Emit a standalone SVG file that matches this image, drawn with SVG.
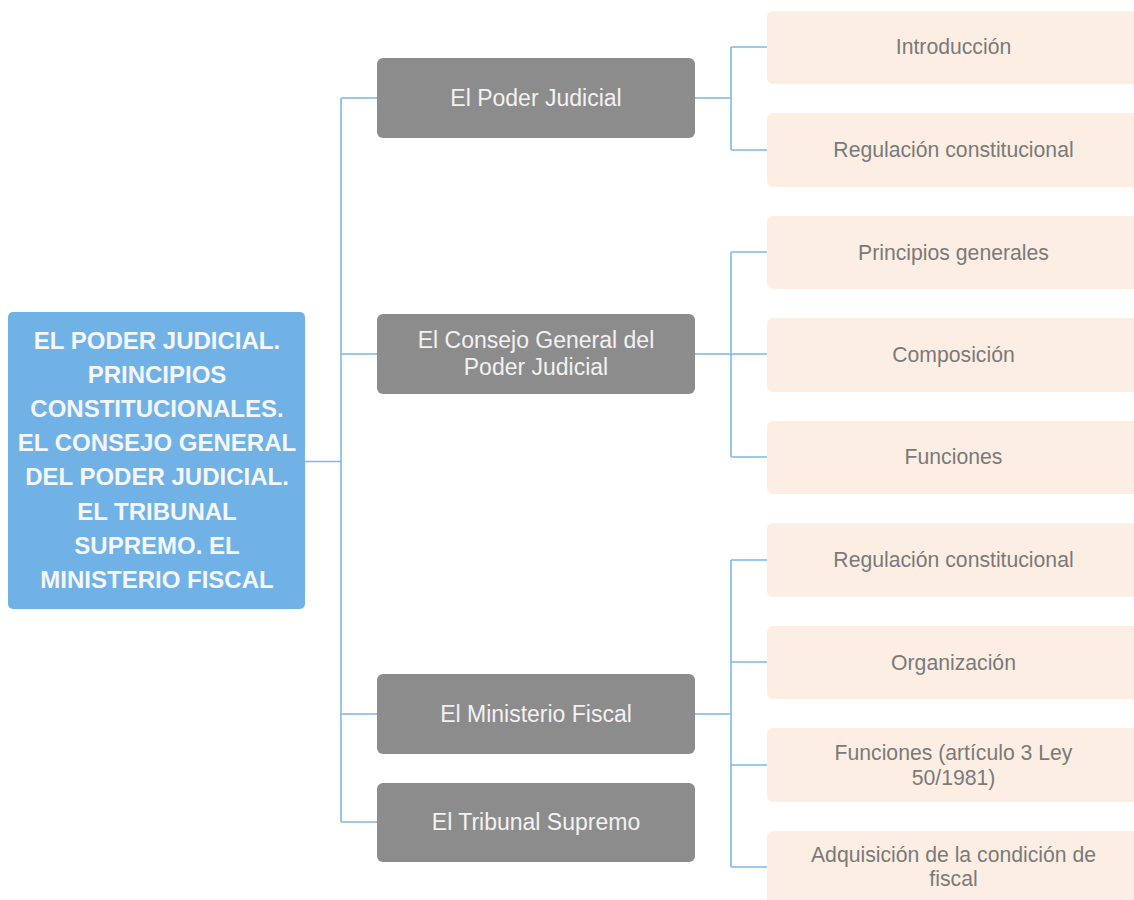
<svg xmlns="http://www.w3.org/2000/svg" width="1134" height="900" viewBox="0 0 1134 900">
  <style>
    .link { fill: none; stroke: #7DB8EA; stroke-width: 1.6; }
    .root rect { fill: #71B2E6; }
    .root text { fill: #F4F6F8; font-family: "Liberation Sans", Arial, sans-serif; font-weight: bold; font-size: 24px; text-anchor: middle; }
    .topic rect { fill: #8C8C8C; }
    .topic text { fill: #F2F2F2; font-family: "Liberation Sans", Arial, sans-serif; font-size: 23px; text-anchor: middle; }
    .leaf rect { fill: #FDEEE3; }
    .leaf text { fill: #7A7A7A; font-family: "Liberation Sans", Arial, sans-serif; font-size: 21.2px; text-anchor: middle; }
  </style>
  <rect width="1134" height="900" fill="#FFFFFF"/>

  <!-- connectors -->
  <g id="connectors">
    <path class="link" d="M305 461.5 H341 M341 98 V822 M341 98 H377 M341 354 H377 M341 714 H377 M341 822 H377"/>
    <path class="link" d="M695 98 H731 M731 47 V150 M731 47 H767 M731 150 H767"/>
    <path class="link" d="M695 354 H731 M731 252 V457 M731 252 H767 M731 354 H767 M731 457 H767"/>
    <path class="link" d="M695 714 H731 M731 560 V867 M731 560 H767 M731 662 H767 M731 765 H767 M731 867 H767"/>
  </g>

  <!-- central topic -->
  <g id="root" class="root">
    <rect x="8" y="312" width="297" height="297" rx="5"/>
    <text x="157" y="349">EL PODER JUDICIAL.<tspan x="157" dy="34.1">PRINCIPIOS</tspan><tspan x="157" dy="34.1">CONSTITUCIONALES.</tspan><tspan x="157" dy="34.1">EL CONSEJO GENERAL</tspan><tspan x="157" dy="34.1">DEL PODER JUDICIAL.</tspan><tspan x="157" dy="34.1">EL TRIBUNAL</tspan><tspan x="157" dy="34.1">SUPREMO. EL</tspan><tspan x="157" dy="34.1">MINISTERIO FISCAL</tspan></text>
  </g>

  <!-- main topics -->
  <g id="poder-judicial" class="topic">
    <rect x="377" y="58" width="318" height="80" rx="6"/>
    <text x="536" y="106">El Poder Judicial</text>
  </g>
  <g id="consejo-general" class="topic">
    <rect x="377" y="314" width="318" height="80" rx="6"/>
    <text x="536" y="348">El Consejo General del<tspan x="536" dy="27">Poder Judicial</tspan></text>
  </g>
  <g id="ministerio-fiscal" class="topic">
    <rect x="377" y="674" width="318" height="80" rx="6"/>
    <text x="536" y="722">El Ministerio Fiscal</text>
  </g>
  <g id="tribunal-supremo" class="topic">
    <rect x="377" y="783" width="318" height="79" rx="6"/>
    <text x="536" y="830">El Tribunal Supremo</text>
  </g>

  <!-- subtopics: El Poder Judicial -->
  <g id="pj-introduccion" class="leaf">
    <rect x="767" y="11" width="373" height="73" rx="6"/>
    <text x="953.5" y="54">Introducción</text>
  </g>
  <g id="pj-regulacion" class="leaf">
    <rect x="767" y="113" width="373" height="74" rx="6"/>
    <text x="953.5" y="157">Regulación constitucional</text>
  </g>

  <!-- subtopics: Consejo General del Poder Judicial -->
  <g id="cgpj-principios" class="leaf">
    <rect x="767" y="216" width="373" height="73" rx="6"/>
    <text x="953.5" y="259.5">Principios generales</text>
  </g>
  <g id="cgpj-composicion" class="leaf">
    <rect x="767" y="318" width="373" height="74" rx="6"/>
    <text x="953.5" y="361.5">Composición</text>
  </g>
  <g id="cgpj-funciones" class="leaf">
    <rect x="767" y="421" width="373" height="73" rx="6"/>
    <text x="953.5" y="464">Funciones</text>
  </g>

  <!-- subtopics: Ministerio Fiscal -->
  <g id="mf-regulacion" class="leaf">
    <rect x="767" y="523" width="373" height="74" rx="6"/>
    <text x="953.5" y="567">Regulación constitucional</text>
  </g>
  <g id="mf-organizacion" class="leaf">
    <rect x="767" y="626" width="373" height="73" rx="6"/>
    <text x="953.5" y="669.5">Organización</text>
  </g>
  <g id="mf-funciones" class="leaf">
    <rect x="767" y="728" width="373" height="74" rx="6"/>
    <text x="953.5" y="760">Funciones (artículo 3 Ley<tspan x="953.5" dy="24.5">50/1981)</tspan></text>
  </g>
  <g id="mf-adquisicion" class="leaf">
    <rect x="767" y="831" width="373" height="74" rx="6"/>
    <text x="953.5" y="861.5">Adquisición de la condición de<tspan x="953.5" dy="24">fiscal</tspan></text>
  </g>
</svg>
